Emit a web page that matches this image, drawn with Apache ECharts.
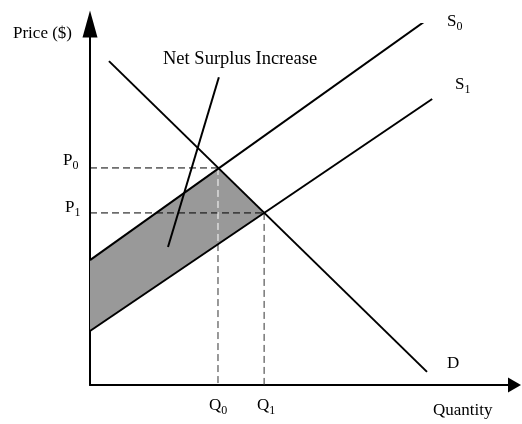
<!DOCTYPE html>
<html>
<head>
<meta charset="utf-8">
<script src="https://cdn.jsdelivr.net/npm/echarts@6/dist/echarts.min.js"></script>
<style>
  html, body { margin: 0; padding: 0; background: #fff; }
  #chart { width: 522px; height: 424px; }
</style>
</head>
<body>
<div id="chart"></div>
<script>
// curves in (quantity, price) units
const supply0 = [[0, 3.33], [7.84, 9.76]];
const supply1 = [[0, 1.44], [7.94, 7.63]];
const demand = [[0.44, 8.64], [7.82, 0.35]];
const q0 = 2.97, q1 = 4.04;
const p0 = 5.79, p1 = 4.59;
const s1AtQ0 = 3.76;
const surplusArea = [[0, 3.33], [q0, p0], [q1, p1], [0, 1.44]];
const pointer = [[2.99, 8.21], [1.81, 3.68]];

const serif = '"Liberation Serif", "Times New Roman", serif';
const rich = {
  m: { fontSize: 17, fontFamily: serif, color: '#000' },
  s: { fontSize: 12, fontFamily: serif, color: '#000', padding: [10, 0, 0, 0] }
};

const solid = (data) => ({
  type: 'line',
  data: data,
  showSymbol: false,
  silent: true,
  lineStyle: { color: '#000', width: 2 },
  z: 5
});
const dashed = (data, color, z) => ({
  type: 'line',
  data: data,
  showSymbol: false,
  silent: true,
  lineStyle: { color: color, width: 1, type: [7, 4] },
  z: z
});

const label = (x, y, text, sub, size) => ({
  type: 'text',
  x: x,
  y: y,
  style: sub
    ? { text: '{m|' + text + '}{s|' + sub + '}', rich: rich, verticalAlign: 'middle' }
    : { text: text, font: (size || 17) + 'px ' + serif, fill: '#000', verticalAlign: 'middle' }
});

const option = {
  animation: false,
  grid: { left: 90, top: 24, right: 7.5, bottom: 39 },
  xAxis: {
    type: 'value', min: 0, max: 9.85,
    axisLine: { show: true, symbol: ['none', 'triangle'], symbolSize: [15, 13], lineStyle: { color: '#000', width: 2 } },
    axisTick: { show: false }, axisLabel: { show: false }, splitLine: { show: false }
  },
  yAxis: {
    type: 'value', min: 0, max: 9.63,
    axisLine: { show: true, symbol: ['none', 'triangle'], symbolSize: [15, 27], lineStyle: { color: '#000', width: 2 } },
    axisTick: { show: false }, axisLabel: { show: false }, splitLine: { show: false }
  },
  series: [
    {
      type: 'custom',
      silent: true,
      z: 1,
      data: [[0, 0]],
      renderItem: (params, api) => ({
        type: 'polygon',
        shape: { points: surplusArea.map(p => api.coord(p)) },
        style: { fill: '#999999' }
      })
    },
    dashed([[0, p0], [q0, p0]], '#000', 3),
    dashed([[0, p1], [q1, p1]], '#000', 3),
    dashed([[q0, p0], [q0, s1AtQ0]], '#fff', 3),
    dashed([[q0, s1AtQ0], [q0, 0]], '#333', 3),
    dashed([[q1, p1], [q1, 0]], '#333', 3),
    solid(supply0),
    solid(supply1),
    solid(demand),
    solid(pointer)
  ],
  graphic: [
    label(13, 34, 'Price ($)'),
    label(163, 59, 'Net Surplus Increase', null, 18.5),
    label(63, 161, 'P', '0'),
    label(65, 208, 'P', '1'),
    label(209, 406, 'Q', '0'),
    label(257, 406, 'Q', '1'),
    label(447, 22, 'S', '0'),
    label(455, 85, 'S', '1'),
    label(447, 364, 'D'),
    label(433, 411, 'Quantity')
  ]
};

echarts.init(document.getElementById('chart')).setOption(option);
</script>
</body>
</html>
